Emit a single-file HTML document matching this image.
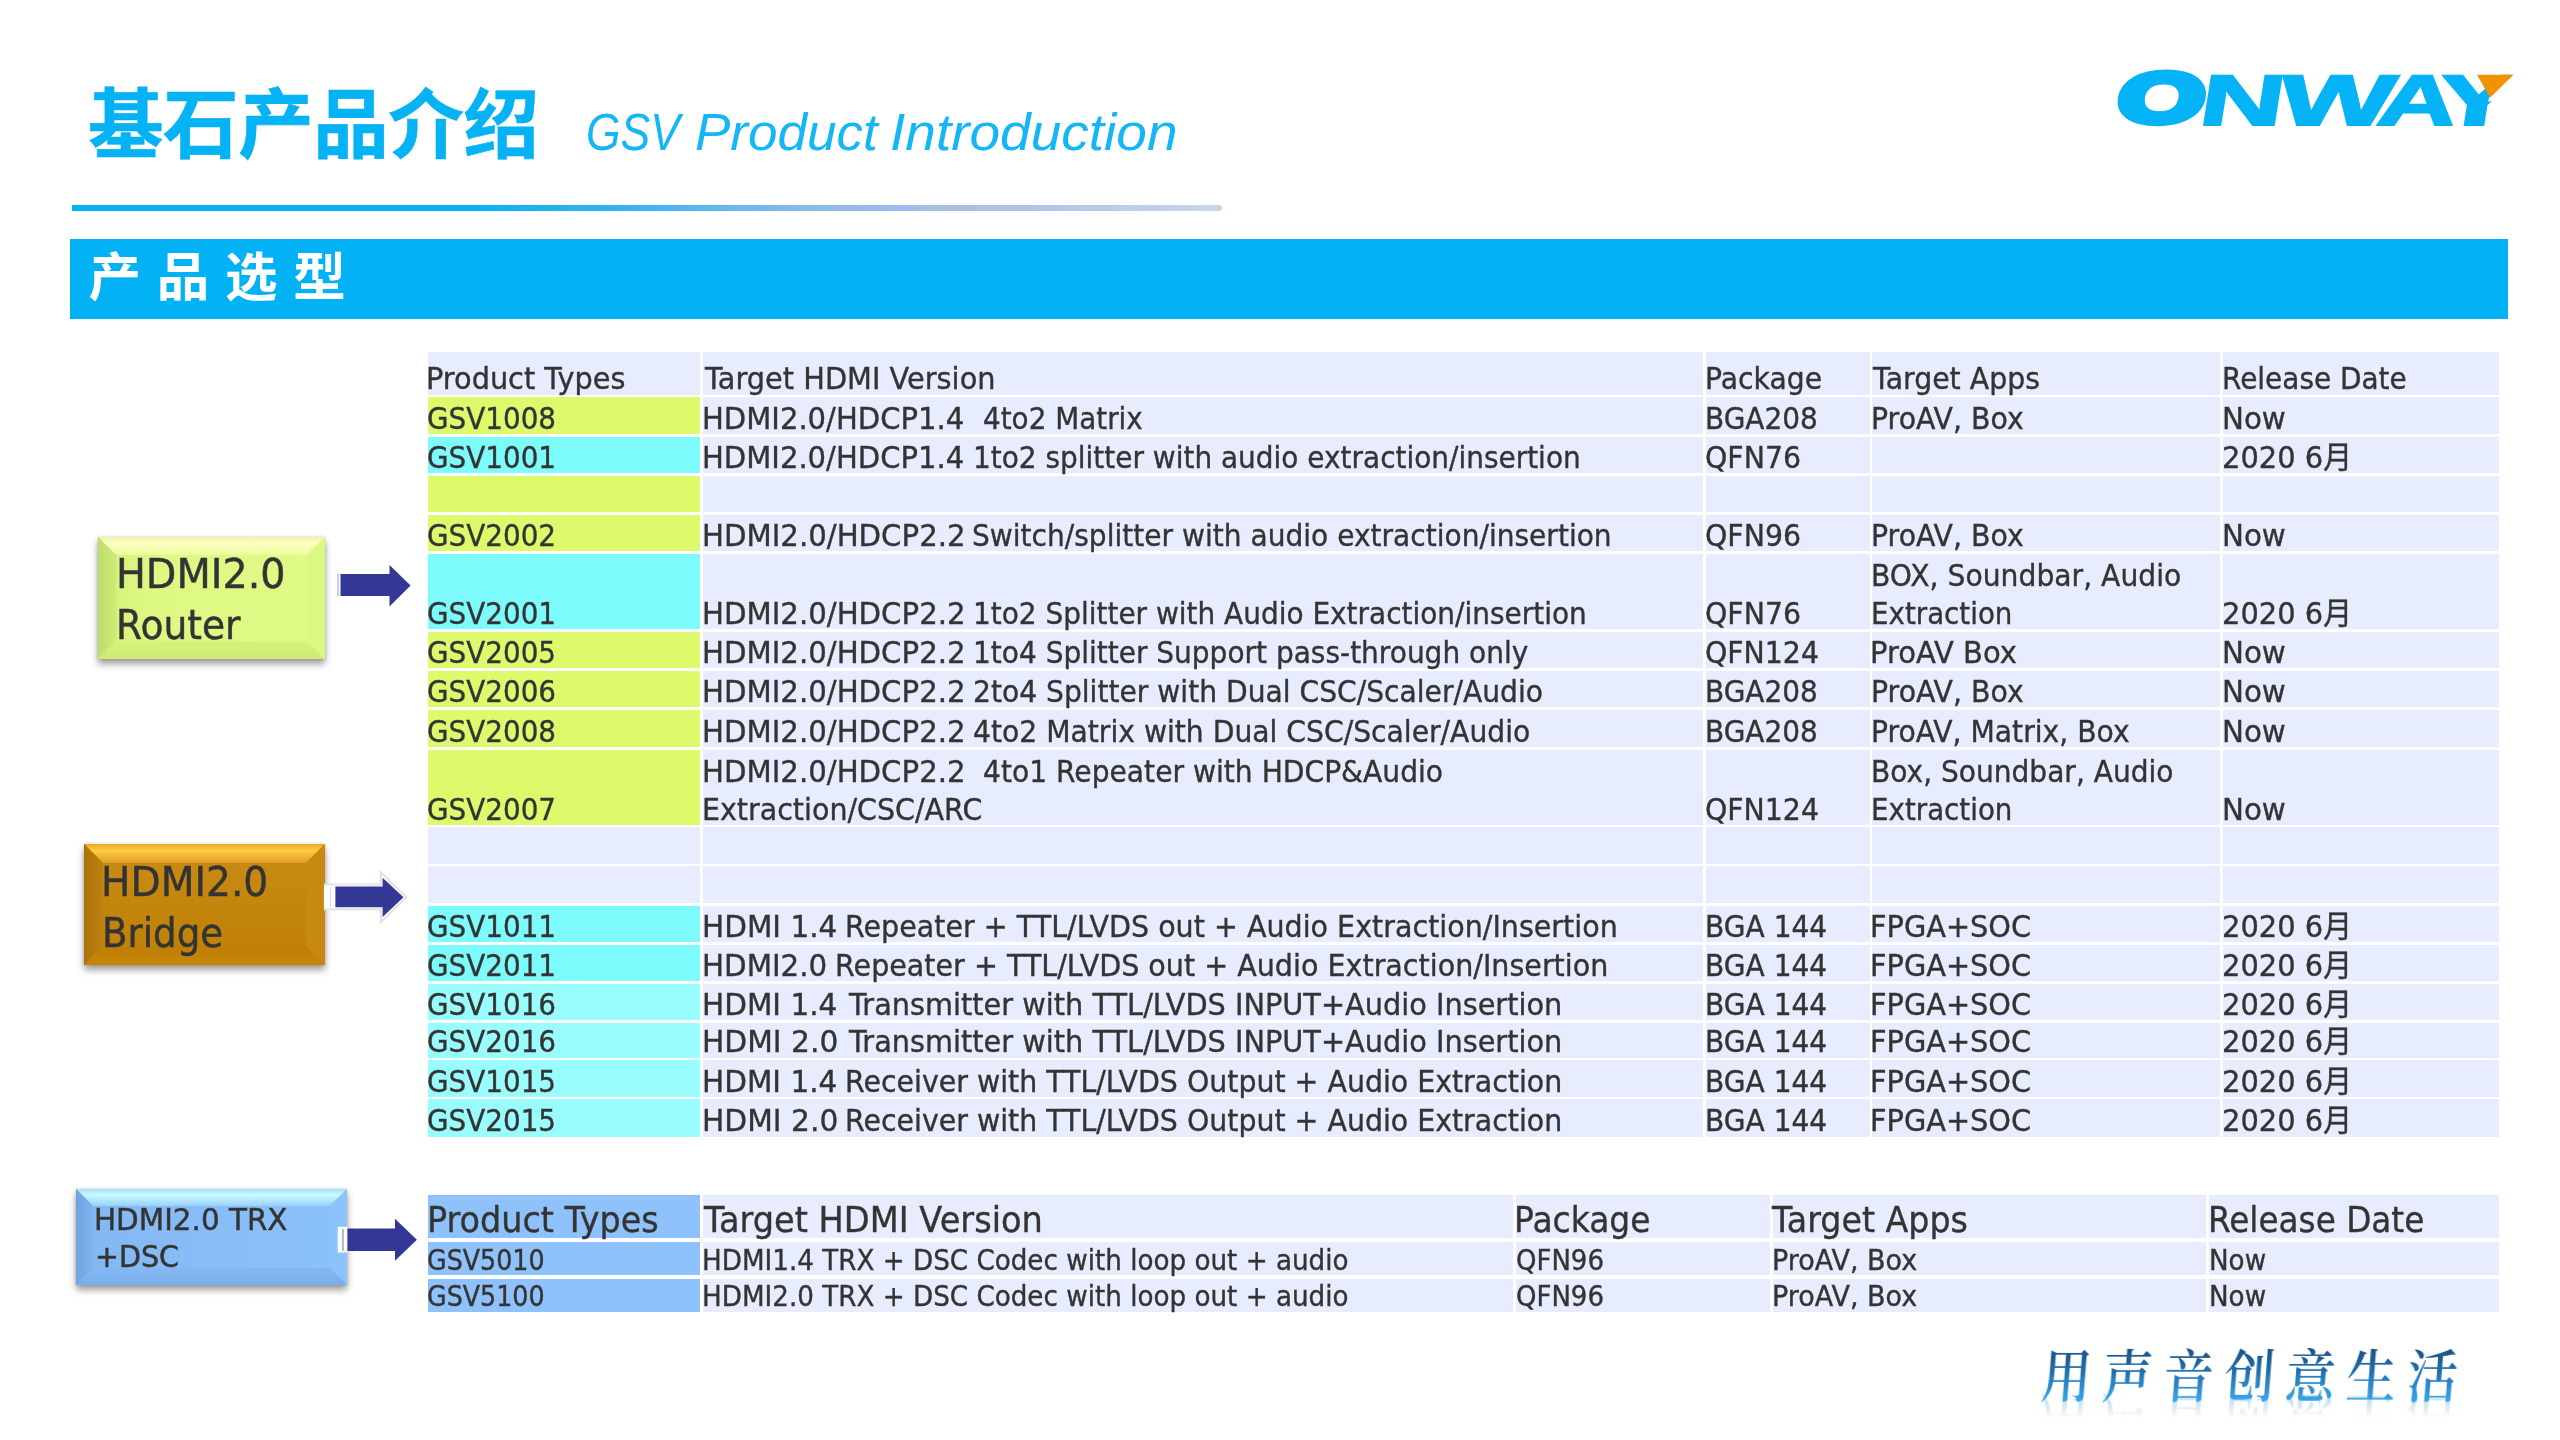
<!DOCTYPE html>
<html lang="zh"><head><meta charset="utf-8"><title>GSV Product Introduction</title>
<style>
*{margin:0;padding:0;box-sizing:border-box}
html,body{width:2560px;height:1440px;background:#fff;overflow:hidden}
body{position:relative;font-family:"DejaVu Sans","Liberation Sans","Noto Sans CJK SC",sans-serif;color:#333}
.abs{position:absolute}
.title{left:88px;top:76px;font:700 75.6px/100px "Liberation Sans","Noto Sans CJK SC",sans-serif;color:#05B2F4;white-space:nowrap;letter-spacing:-0.5px;-webkit-text-stroke:0.6px #05B2F4}
.sub{left:586px;top:97px;width:600px;height:70px;font:italic 400 52px/70px "Liberation Sans",sans-serif;color:#14B6F5;white-space:nowrap}
.sub span{position:absolute;top:0;transform-origin:0 0}
.rule{left:72px;top:205px;width:1150px;height:6px;border-radius:0 4px 4px 0;background:linear-gradient(90deg,#02B1F2 0%,#02B1F2 32%,#2FB2EF 46%,#6FB7EB 58%,#98BCE8 68%,#ABBFE6 78%,#BCC9EA 90%,#CCD5EE 100%)}
.bar{left:70px;top:239px;width:2438px;height:80px;background:#02B2F4}
.bar span{position:absolute;left:18.5px;top:5.3px;font:700 52.5px/68px "Liberation Sans","Noto Sans CJK SC",sans-serif;color:#fff;white-space:pre;letter-spacing:0.6px}
.c{position:absolute}
.c span{position:absolute;white-space:nowrap;transform-origin:0 0;font-size:30.5px;line-height:38px;-webkit-text-stroke:0.4px #383838}
.c.h2 span{font-size:35.4px;line-height:44px}
.c.s span{font-size:27.7px;line-height:35px}
.bx{position:absolute;box-shadow:0 5px 7px rgba(0,0,0,.38), 0 0 3px rgba(0,0,0,.15)}
.bx svg{position:absolute;left:0;top:0;display:block}
.bt{position:absolute;white-space:nowrap;color:#333;transform-origin:0 0;-webkit-text-stroke:0.5px #383838}
.slogan{left:2045px;top:1332.6px;font:600 50px/68px "Noto Serif CJK SC","Noto Sans CJK SC",serif;letter-spacing:11px;white-space:nowrap;background:linear-gradient(180deg,#1A4B7A 14%,#1F6FAE 50%,#3AA3E6 86%);-webkit-background-clip:text;background-clip:text;color:transparent;-webkit-box-reflect:below -22px linear-gradient(transparent 58%, rgba(255,255,255,.55));transform-origin:0 0;transform:scale(1,1.14) skewX(-5deg)}
</style></head>
<body>
<div class="abs title">基石产品介绍</div>
<div class="abs sub"><span style="left:0.18px;transform:scaleX(0.8559)">GSV</span> <span style="left:109.46px;transform:scaleX(1.0196)">Product</span> <span style="left:304.38px;transform:scaleX(1.0581)">Introduction</span></div>
<div class="abs rule"></div>
<div class="abs bar"><span>产 品 选 型</span></div>
<div class="c h" style="left:428px;top:352px;width:272px;height:43px;background:#E7EDFE"><span style="left:-1.53px;top:7.65px;transform:scaleX(0.9430)">Product Types</span></div>
<div class="c h" style="left:703px;top:352px;width:1000px;height:43px;background:#E7EDFE"><span style="left:1.50px;top:7.65px;transform:scaleX(0.9443)">Target HDMI Version</span></div>
<div class="c h" style="left:1706px;top:352px;width:164px;height:43px;background:#E7EDFE"><span style="left:-1.18px;top:7.65px;transform:scaleX(0.9254)">Package</span></div>
<div class="c h" style="left:1872px;top:352px;width:348px;height:43px;background:#E7EDFE"><span style="left:0.50px;top:7.65px;transform:scaleX(0.9298)">Target Apps</span></div>
<div class="c h" style="left:2223px;top:352px;width:276px;height:43px;background:#E7EDFE"><span style="left:-0.75px;top:7.65px;transform:scaleX(0.9157)">Release Date</span></div>
<div class="c " style="left:428px;top:397px;width:272px;height:37px;background:#DCFA6C"><span style="left:-1.22px;top:2.55px;transform:scaleX(0.9123)">GSV1008</span></div>
<div class="c " style="left:703px;top:397px;width:1000px;height:37px;background:#E7EDFE"><span style="left:-1.11px;top:2.55px;transform:scaleX(0.9530)">HDMI2.0/HDCP1.4&nbsp; </span><span style="left:280.29px;top:2.55px;transform:scaleX(0.9121)">4to2 Matrix</span></div>
<div class="c " style="left:1706px;top:397px;width:164px;height:37px;background:#E7EDFE"><span style="left:-0.95px;top:2.55px;transform:scaleX(0.9169)">BGA208</span></div>
<div class="c " style="left:1872px;top:397px;width:348px;height:37px;background:#E7EDFE"><span style="left:-1.49px;top:2.55px;transform:scaleX(0.9294)">ProAV, Box</span></div>
<div class="c " style="left:2223px;top:397px;width:276px;height:37px;background:#E7EDFE"><span style="left:-0.88px;top:2.55px;transform:scaleX(0.9613)">Now</span></div>
<div class="c " style="left:428px;top:437px;width:272px;height:36px;background:#7DFBFC"><span style="left:-1.22px;top:1.55px;transform:scaleX(0.9123)">GSV1001</span></div>
<div class="c " style="left:703px;top:437px;width:1000px;height:36px;background:#E7EDFE"><span style="left:-1.11px;top:1.55px;transform:scaleX(0.9530)">HDMI2.0/HDCP1.4 </span><span style="left:270.05px;top:1.55px;transform:scaleX(0.9163)">1to2 splitter with audio extraction/insertion</span></div>
<div class="c " style="left:1706px;top:437px;width:164px;height:36px;background:#E7EDFE"><span style="left:-0.96px;top:1.55px;transform:scaleX(0.9310)">QFN76</span></div>
<div class="c " style="left:1872px;top:437px;width:348px;height:36px;background:#E7EDFE"></div>
<div class="c " style="left:2223px;top:437px;width:276px;height:36px;background:#E7EDFE"><span style="left:-0.60px;top:1.55px;transform:scaleX(0.9477)">2020 6月</span></div>
<div class="c " style="left:428px;top:476px;width:272px;height:36px;background:#DCFA6C"></div>
<div class="c " style="left:703px;top:476px;width:1000px;height:36px;background:#E7EDFE"></div>
<div class="c " style="left:1706px;top:476px;width:164px;height:36px;background:#E7EDFE"></div>
<div class="c " style="left:1872px;top:476px;width:348px;height:36px;background:#E7EDFE"></div>
<div class="c " style="left:2223px;top:476px;width:276px;height:36px;background:#E7EDFE"></div>
<div class="c " style="left:428px;top:515px;width:272px;height:36px;background:#DCFA6C"><span style="left:-1.22px;top:1.75px;transform:scaleX(0.9123)">GSV2002</span></div>
<div class="c " style="left:703px;top:515px;width:1000px;height:36px;background:#E7EDFE"><span style="left:-1.12px;top:1.75px;transform:scaleX(0.9582)">HDMI2.0/HDCP2.2 </span><span style="left:269.36px;top:1.75px;transform:scaleX(0.9201)">Switch/splitter with audio extraction/insertion</span></div>
<div class="c " style="left:1706px;top:515px;width:164px;height:36px;background:#E7EDFE"><span style="left:-0.96px;top:1.75px;transform:scaleX(0.9310)">QFN96</span></div>
<div class="c " style="left:1872px;top:515px;width:348px;height:36px;background:#E7EDFE"><span style="left:-1.49px;top:1.75px;transform:scaleX(0.9294)">ProAV, Box</span></div>
<div class="c " style="left:2223px;top:515px;width:276px;height:36px;background:#E7EDFE"><span style="left:-0.88px;top:1.75px;transform:scaleX(0.9613)">Now</span></div>
<div class="c " style="left:428px;top:554px;width:272px;height:75px;background:#7DFBFC"><span style="left:-1.22px;top:40.55px;transform:scaleX(0.9123)">GSV2001</span></div>
<div class="c " style="left:703px;top:554px;width:1000px;height:75px;background:#E7EDFE"><span style="left:-1.12px;top:40.55px;transform:scaleX(0.9582)">HDMI2.0/HDCP2.2 </span><span style="left:270.05px;top:40.55px;transform:scaleX(0.9161)">1to2 Splitter with Audio Extraction/insertion</span></div>
<div class="c " style="left:1706px;top:554px;width:164px;height:75px;background:#E7EDFE"><span style="left:-0.96px;top:40.55px;transform:scaleX(0.9310)">QFN76</span></div>
<div class="c " style="left:1872px;top:554px;width:348px;height:75px;background:#E7EDFE"><span style="left:-1.48px;top:2.55px;transform:scaleX(0.9251)">BOX, Soundbar, Audio</span><span style="left:-1.42px;top:40.55px;transform:scaleX(0.9080)">Extraction</span></div>
<div class="c " style="left:2223px;top:554px;width:276px;height:75px;background:#E7EDFE"><span style="left:-0.60px;top:40.55px;transform:scaleX(0.9477)">2020 6月</span></div>
<div class="c " style="left:428px;top:632px;width:272px;height:36px;background:#DCFA6C"><span style="left:-1.22px;top:1.95px;transform:scaleX(0.9123)">GSV2005</span></div>
<div class="c " style="left:703px;top:632px;width:1000px;height:36px;background:#E7EDFE"><span style="left:-1.12px;top:1.95px;transform:scaleX(0.9582)">HDMI2.0/HDCP2.2 </span><span style="left:270.05px;top:1.95px;transform:scaleX(0.9180)">1to4 Splitter Support pass-through only</span></div>
<div class="c " style="left:1706px;top:632px;width:164px;height:36px;background:#E7EDFE"><span style="left:-0.96px;top:1.95px;transform:scaleX(0.9294)">QFN124</span></div>
<div class="c " style="left:1872px;top:632px;width:348px;height:36px;background:#E7EDFE"><span style="left:-1.55px;top:1.95px;transform:scaleX(0.9510)">ProAV Box</span></div>
<div class="c " style="left:2223px;top:632px;width:276px;height:36px;background:#E7EDFE"><span style="left:-0.88px;top:1.95px;transform:scaleX(0.9613)">Now</span></div>
<div class="c " style="left:428px;top:671px;width:272px;height:36px;background:#DCFA6C"><span style="left:-1.22px;top:2.15px;transform:scaleX(0.9123)">GSV2006</span></div>
<div class="c " style="left:703px;top:671px;width:1000px;height:36px;background:#E7EDFE"><span style="left:-1.12px;top:2.15px;transform:scaleX(0.9582)">HDMI2.0/HDCP2.2 </span><span style="left:269.75px;top:2.15px;transform:scaleX(0.9229)">2to4 Splitter with Dual CSC/Scaler/Audio</span></div>
<div class="c " style="left:1706px;top:671px;width:164px;height:36px;background:#E7EDFE"><span style="left:-0.95px;top:2.15px;transform:scaleX(0.9169)">BGA208</span></div>
<div class="c " style="left:1872px;top:671px;width:348px;height:36px;background:#E7EDFE"><span style="left:-1.49px;top:2.15px;transform:scaleX(0.9294)">ProAV, Box</span></div>
<div class="c " style="left:2223px;top:671px;width:276px;height:36px;background:#E7EDFE"><span style="left:-0.88px;top:2.15px;transform:scaleX(0.9613)">Now</span></div>
<div class="c " style="left:428px;top:710px;width:272px;height:37px;background:#DCFA6C"><span style="left:-1.22px;top:2.55px;transform:scaleX(0.9123)">GSV2008</span></div>
<div class="c " style="left:703px;top:710px;width:1000px;height:37px;background:#E7EDFE"><span style="left:-1.12px;top:2.55px;transform:scaleX(0.9582)">HDMI2.0/HDCP2.2 </span><span style="left:270.08px;top:2.55px;transform:scaleX(0.9246)">4to2 Matrix with Dual CSC/Scaler/Audio</span></div>
<div class="c " style="left:1706px;top:710px;width:164px;height:37px;background:#E7EDFE"><span style="left:-0.95px;top:2.55px;transform:scaleX(0.9169)">BGA208</span></div>
<div class="c " style="left:1872px;top:710px;width:348px;height:37px;background:#E7EDFE"><span style="left:-1.48px;top:2.55px;transform:scaleX(0.9250)">ProAV, Matrix, Box</span></div>
<div class="c " style="left:2223px;top:710px;width:276px;height:37px;background:#E7EDFE"><span style="left:-0.88px;top:2.55px;transform:scaleX(0.9613)">Now</span></div>
<div class="c " style="left:428px;top:750px;width:272px;height:75px;background:#DCFA6C"><span style="left:-1.22px;top:40.55px;transform:scaleX(0.9123)">GSV2007</span></div>
<div class="c " style="left:703px;top:750px;width:1000px;height:75px;background:#E7EDFE"><span style="left:-1.12px;top:2.55px;transform:scaleX(0.9582)">HDMI2.0/HDCP2.2&nbsp; </span><span style="left:280.28px;top:2.55px;transform:scaleX(0.9230)">4to1 Repeater with HDCP&amp;Audio</span><span style="left:-1.30px;top:40.55px;transform:scaleX(0.9341)">Extraction/CSC/ARC</span></div>
<div class="c " style="left:1706px;top:750px;width:164px;height:75px;background:#E7EDFE"><span style="left:-0.96px;top:40.55px;transform:scaleX(0.9294)">QFN124</span></div>
<div class="c " style="left:1872px;top:750px;width:348px;height:75px;background:#E7EDFE"><span style="left:-1.46px;top:2.55px;transform:scaleX(0.9200)">Box, Soundbar, Audio</span><span style="left:-1.42px;top:40.55px;transform:scaleX(0.9080)">Extraction</span></div>
<div class="c " style="left:2223px;top:750px;width:276px;height:75px;background:#E7EDFE"><span style="left:-0.88px;top:40.55px;transform:scaleX(0.9613)">Now</span></div>
<div class="c " style="left:428px;top:827px;width:272px;height:37px;background:#E7EDFE"></div>
<div class="c " style="left:703px;top:827px;width:1000px;height:37px;background:#E7EDFE"></div>
<div class="c " style="left:1706px;top:827px;width:164px;height:37px;background:#E7EDFE"></div>
<div class="c " style="left:1872px;top:827px;width:348px;height:37px;background:#E7EDFE"></div>
<div class="c " style="left:2223px;top:827px;width:276px;height:37px;background:#E7EDFE"></div>
<div class="c " style="left:428px;top:866px;width:272px;height:37px;background:#E7EDFE"></div>
<div class="c " style="left:703px;top:866px;width:1000px;height:37px;background:#E7EDFE"></div>
<div class="c " style="left:1706px;top:866px;width:164px;height:37px;background:#E7EDFE"></div>
<div class="c " style="left:1872px;top:866px;width:348px;height:37px;background:#E7EDFE"></div>
<div class="c " style="left:2223px;top:866px;width:276px;height:37px;background:#E7EDFE"></div>
<div class="c " style="left:428px;top:906px;width:272px;height:36px;background:#7DFBFC"><span style="left:-1.22px;top:1.65px;transform:scaleX(0.9123)">GSV1011</span></div>
<div class="c " style="left:703px;top:906px;width:1000px;height:36px;background:#E7EDFE"><span style="left:-1.15px;top:1.65px;transform:scaleX(0.9669)">HDMI 1.4 </span><span style="left:142.19px;top:1.65px;transform:scaleX(0.9357)">Repeater + TTL/LVDS out + Audio Extraction/Insertion</span></div>
<div class="c " style="left:1706px;top:906px;width:164px;height:36px;background:#E7EDFE"><span style="left:-0.96px;top:1.65px;transform:scaleX(0.9202)">BGA 144</span></div>
<div class="c " style="left:1872px;top:906px;width:348px;height:36px;background:#E7EDFE"><span style="left:-1.53px;top:1.65px;transform:scaleX(0.9440)">FPGA+SOC</span></div>
<div class="c " style="left:2223px;top:906px;width:276px;height:36px;background:#E7EDFE"><span style="left:-0.60px;top:1.65px;transform:scaleX(0.9477)">2020 6月</span></div>
<div class="c " style="left:428px;top:945px;width:272px;height:36px;background:#7DFBFC"><span style="left:-1.22px;top:1.85px;transform:scaleX(0.9123)">GSV2011</span></div>
<div class="c " style="left:703px;top:945px;width:1000px;height:36px;background:#E7EDFE"><span style="left:-1.14px;top:1.85px;transform:scaleX(0.9620)">HDMI2.0 </span><span style="left:132.44px;top:1.85px;transform:scaleX(0.9364)">Repeater + TTL/LVDS out + Audio Extraction/Insertion</span></div>
<div class="c " style="left:1706px;top:945px;width:164px;height:36px;background:#E7EDFE"><span style="left:-0.96px;top:1.85px;transform:scaleX(0.9202)">BGA 144</span></div>
<div class="c " style="left:1872px;top:945px;width:348px;height:36px;background:#E7EDFE"><span style="left:-1.53px;top:1.85px;transform:scaleX(0.9440)">FPGA+SOC</span></div>
<div class="c " style="left:2223px;top:945px;width:276px;height:36px;background:#E7EDFE"><span style="left:-0.60px;top:1.85px;transform:scaleX(0.9477)">2020 6月</span></div>
<div class="c " style="left:428px;top:984px;width:272px;height:36px;background:#99FCFD"><span style="left:-1.22px;top:2.05px;transform:scaleX(0.9123)">GSV1016</span></div>
<div class="c " style="left:703px;top:984px;width:1000px;height:36px;background:#E7EDFE"><span style="left:-1.15px;top:2.05px;transform:scaleX(0.9669)">HDMI 1.4 </span><span style="left:145.75px;top:2.05px;transform:scaleX(0.9433)">Transmitter with TTL/LVDS INPUT+Audio Insertion</span></div>
<div class="c " style="left:1706px;top:984px;width:164px;height:36px;background:#E7EDFE"><span style="left:-0.96px;top:2.05px;transform:scaleX(0.9202)">BGA 144</span></div>
<div class="c " style="left:1872px;top:984px;width:348px;height:36px;background:#E7EDFE"><span style="left:-1.53px;top:2.05px;transform:scaleX(0.9440)">FPGA+SOC</span></div>
<div class="c " style="left:2223px;top:984px;width:276px;height:36px;background:#E7EDFE"><span style="left:-0.60px;top:2.05px;transform:scaleX(0.9477)">2020 6月</span></div>
<div class="c " style="left:428px;top:1023px;width:272px;height:35px;background:#99FCFD"><span style="left:-1.22px;top:0.35px;transform:scaleX(0.9123)">GSV2016</span></div>
<div class="c " style="left:703px;top:1023px;width:1000px;height:35px;background:#E7EDFE"><span style="left:-1.17px;top:0.35px;transform:scaleX(0.9741)">HDMI 2.0 </span><span style="left:145.75px;top:0.35px;transform:scaleX(0.9433)">Transmitter with TTL/LVDS INPUT+Audio Insertion</span></div>
<div class="c " style="left:1706px;top:1023px;width:164px;height:35px;background:#E7EDFE"><span style="left:-0.96px;top:0.35px;transform:scaleX(0.9202)">BGA 144</span></div>
<div class="c " style="left:1872px;top:1023px;width:348px;height:35px;background:#E7EDFE"><span style="left:-1.53px;top:0.35px;transform:scaleX(0.9440)">FPGA+SOC</span></div>
<div class="c " style="left:2223px;top:1023px;width:276px;height:35px;background:#E7EDFE"><span style="left:-0.60px;top:0.35px;transform:scaleX(0.9477)">2020 6月</span></div>
<div class="c " style="left:428px;top:1060px;width:272px;height:37px;background:#99FCFD"><span style="left:-1.22px;top:2.75px;transform:scaleX(0.9123)">GSV1015</span></div>
<div class="c " style="left:703px;top:1060px;width:1000px;height:37px;background:#E7EDFE"><span style="left:-1.15px;top:2.75px;transform:scaleX(0.9669)">HDMI 1.4 </span><span style="left:142.21px;top:2.75px;transform:scaleX(0.9314)">Receiver with TTL/LVDS Output + Audio Extraction</span></div>
<div class="c " style="left:1706px;top:1060px;width:164px;height:37px;background:#E7EDFE"><span style="left:-0.96px;top:2.75px;transform:scaleX(0.9202)">BGA 144</span></div>
<div class="c " style="left:1872px;top:1060px;width:348px;height:37px;background:#E7EDFE"><span style="left:-1.53px;top:2.75px;transform:scaleX(0.9440)">FPGA+SOC</span></div>
<div class="c " style="left:2223px;top:1060px;width:276px;height:37px;background:#E7EDFE"><span style="left:-0.60px;top:2.75px;transform:scaleX(0.9477)">2020 6月</span></div>
<div class="c " style="left:428px;top:1099px;width:272px;height:38px;background:#99FCFD"><span style="left:-1.22px;top:3.45px;transform:scaleX(0.9123)">GSV2015</span></div>
<div class="c " style="left:703px;top:1099px;width:1000px;height:38px;background:#E7EDFE"><span style="left:-1.17px;top:3.45px;transform:scaleX(0.9741)">HDMI 2.0 </span><span style="left:142.21px;top:3.45px;transform:scaleX(0.9314)">Receiver with TTL/LVDS Output + Audio Extraction</span></div>
<div class="c " style="left:1706px;top:1099px;width:164px;height:38px;background:#E7EDFE"><span style="left:-0.96px;top:3.45px;transform:scaleX(0.9202)">BGA 144</span></div>
<div class="c " style="left:1872px;top:1099px;width:348px;height:38px;background:#E7EDFE"><span style="left:-1.53px;top:3.45px;transform:scaleX(0.9440)">FPGA+SOC</span></div>
<div class="c " style="left:2223px;top:1099px;width:276px;height:38px;background:#E7EDFE"><span style="left:-0.60px;top:3.45px;transform:scaleX(0.9477)">2020 6月</span></div>
<div class="c h2" style="left:428px;top:1195px;width:272px;height:43px;background:#8FC1FB"><span style="left:-1.43px;top:3.05px;transform:scaleX(0.9440)">Product Types</span></div>
<div class="c h2" style="left:703px;top:1195px;width:810px;height:43px;background:#E7EDFE"><span style="left:1.00px;top:3.05px;transform:scaleX(0.9492)">Target HDMI Version</span></div>
<div class="c h2" style="left:1516px;top:1195px;width:254px;height:43px;background:#E7EDFE"><span style="left:-1.54px;top:3.05px;transform:scaleX(0.9306)">Package</span></div>
<div class="c h2" style="left:1773px;top:1195px;width:433px;height:43px;background:#E7EDFE"><span style="left:-0.90px;top:3.05px;transform:scaleX(0.9401)">Target Apps</span></div>
<div class="c h2" style="left:2209px;top:1195px;width:290px;height:43px;background:#E7EDFE"><span style="left:-0.77px;top:3.05px;transform:scaleX(0.9239)">Release Date</span></div>
<div class="c s" style="left:428px;top:1242px;width:272px;height:33px;background:#8FC1FB"><span style="left:-0.62px;top:0.72px;transform:scaleX(0.9159)">GSV5010</span></div>
<div class="c s" style="left:703px;top:1242px;width:810px;height:33px;background:#E7EDFE"><span style="left:-0.89px;top:0.72px;transform:scaleX(0.9463)">HDMI1.4 TRX + DSC Codec with loop out + audio</span></div>
<div class="c s" style="left:1516px;top:1242px;width:254px;height:33px;background:#E7EDFE"><span style="left:-0.14px;top:0.72px;transform:scaleX(0.9390)">QFN96</span></div>
<div class="c s" style="left:1773px;top:1242px;width:433px;height:33px;background:#E7EDFE"><span style="left:-1.05px;top:0.72px;transform:scaleX(0.9740)">ProAV, Box</span></div>
<div class="c s" style="left:2209px;top:1242px;width:290px;height:33px;background:#E7EDFE"><span style="left:0.11px;top:0.72px;transform:scaleX(0.9466)">Now</span></div>
<div class="c s" style="left:428px;top:1279px;width:272px;height:33px;background:#8FC1FB"><span style="left:-0.62px;top:0.42px;transform:scaleX(0.9159)">GSV5100</span></div>
<div class="c s" style="left:703px;top:1279px;width:810px;height:33px;background:#E7EDFE"><span style="left:-0.89px;top:0.42px;transform:scaleX(0.9463)">HDMI2.0 TRX + DSC Codec with loop out + audio</span></div>
<div class="c s" style="left:1516px;top:1279px;width:254px;height:33px;background:#E7EDFE"><span style="left:-0.14px;top:0.42px;transform:scaleX(0.9390)">QFN96</span></div>
<div class="c s" style="left:1773px;top:1279px;width:433px;height:33px;background:#E7EDFE"><span style="left:-1.05px;top:0.42px;transform:scaleX(0.9740)">ProAV, Box</span></div>
<div class="c s" style="left:2209px;top:1279px;width:290px;height:33px;background:#E7EDFE"><span style="left:0.11px;top:0.42px;transform:scaleX(0.9466)">Now</span></div>
<!-- bevelled label boxes -->
<div class="bx" style="left:98px;top:537px;width:227px;height:122px">
<svg width="227" height="122" viewBox="0 0 226 122" preserveAspectRatio="none">
<defs>
<linearGradient id="g1f" x1="0" y1="0" x2="1" y2="0"><stop offset="0" stop-color="#D4F07A"/><stop offset="0.25" stop-color="#DDF984"/><stop offset="1" stop-color="#DFFB86"/></linearGradient>
<linearGradient id="g1t" x1="0" y1="0" x2="0" y2="1"><stop offset="0" stop-color="#EEF5A8"/><stop offset="0.35" stop-color="#FDFEC2"/><stop offset="1" stop-color="#EEFC9C"/></linearGradient>
<linearGradient id="g1l" x1="0" y1="0" x2="1" y2="0"><stop offset="0" stop-color="#BFDD6E"/><stop offset="1" stop-color="#CDEB78"/></linearGradient>
<linearGradient id="g1b" x1="0" y1="0" x2="0" y2="1"><stop offset="0" stop-color="#D8F47C"/><stop offset="1" stop-color="#CDE875"/></linearGradient>
</defs>
<rect width="226" height="122" fill="url(#g1f)"/>
<polygon points="0,0 226,0 208,18 18,18" fill="url(#g1t)"/>
<polygon points="0,0 18,18 18,104 0,122" fill="url(#g1l)"/>
<polygon points="226,0 226,122 208,104 208,18" fill="#DCF782"/>
<polygon points="0,122 18,104 208,104 226,122" fill="url(#g1b)"/>
</svg>
<div class="bt" id="b1a" style="left:17.63px;top:17.06px;font-size:41.0px;line-height:1;transform:scaleX(0.9685)">HDMI2.0</div><div class="bt" id="b1b" style="left:18.34px;top:68.11px;font-size:41.0px;line-height:1;transform:scaleX(0.9159)">Router</div>
</div>

<div class="bx" style="left:84px;top:844px;width:241px;height:121px">
<svg width="241" height="121" viewBox="0 0 240 121" preserveAspectRatio="none">
<defs>
<linearGradient id="g2f" x1="0" y1="0" x2="0" y2="1"><stop offset="0" stop-color="#C98C14"/><stop offset="1" stop-color="#BF7F06"/></linearGradient>
<linearGradient id="g2t" x1="0" y1="0" x2="0" y2="1"><stop offset="0" stop-color="#E9A91E"/><stop offset="0.35" stop-color="#FFCB45"/><stop offset="1" stop-color="#DFA024"/></linearGradient>
<linearGradient id="g2l" x1="0" y1="0" x2="1" y2="0"><stop offset="0" stop-color="#A9730A"/><stop offset="1" stop-color="#BC8210"/></linearGradient>
<linearGradient id="g2b" x1="0" y1="0" x2="0" y2="1"><stop offset="0" stop-color="#BD7E05"/><stop offset="1" stop-color="#C68708"/></linearGradient>
</defs>
<rect width="240" height="121" fill="url(#g2f)"/>
<polygon points="0,0 240,0 221,19 19,19" fill="url(#g2t)"/>
<polygon points="0,0 19,19 19,102 0,121" fill="url(#g2l)"/>
<polygon points="240,0 240,121 221,102 221,19" fill="#C88A0E"/>
<polygon points="0,121 19,102 221,102 240,121" fill="url(#g2b)"/>
</svg>
<div class="bt" id="b2a" style="left:17.22px;top:16.69px;font-size:41.5px;line-height:1;transform:scaleX(0.9441)">HDMI2.0</div><div class="bt" id="b2b" style="left:17.92px;top:67.89px;font-size:41.5px;line-height:1;transform:scaleX(0.8953)">Bridge</div>
</div>

<div class="bx" style="left:76px;top:1189px;width:271px;height:96px">
<svg width="271" height="96" viewBox="0 0 271 96">
<defs>
<linearGradient id="g3f" x1="0" y1="0" x2="1" y2="0"><stop offset="0" stop-color="#83B7F3"/><stop offset="1" stop-color="#8CC2FC"/></linearGradient>
<linearGradient id="g3t" x1="0" y1="0" x2="0" y2="1"><stop offset="0" stop-color="#A9DDF9"/><stop offset="0.35" stop-color="#C8FBFF"/><stop offset="1" stop-color="#9AD0FB"/></linearGradient>
<linearGradient id="g3l" x1="0" y1="0" x2="1" y2="0"><stop offset="0" stop-color="#6FA2DE"/><stop offset="1" stop-color="#7FB3EF"/></linearGradient>
<linearGradient id="g3b" x1="0" y1="0" x2="0" y2="1"><stop offset="0" stop-color="#84B8F4"/><stop offset="1" stop-color="#7AAEEA"/></linearGradient>
</defs>
<rect width="271" height="96" fill="url(#g3f)"/>
<polygon points="0,0 271,0 254,17 17,17" fill="url(#g3t)"/>
<polygon points="0,0 17,17 17,79 0,96" fill="url(#g3l)"/>
<polygon points="271,0 271,96 254,79 254,17" fill="#8BC3FD"/>
<polygon points="0,96 17,79 254,79 271,96" fill="url(#g3b)"/>
</svg>
<div class="bt" id="b3a" style="left:17.72px;top:15.61px;font-size:30.6px;line-height:1;transform:scaleX(0.9614)">HDMI2.0 TRX</div><div class="bt" id="b3b" style="left:18.5px;top:53.31px;font-size:30.6px;line-height:1;transform:scaleX(0.9329)">+DSC</div>
</div>

<!-- arrows -->
<svg class="abs" style="left:330px;top:555px" width="90" height="62" viewBox="330 555 90 62">
<rect x="337" y="574" width="2" height="22" fill="#C9CBE6"/>
<polygon points="340.5,574 389.5,574 389.5,565 410.6,585.5 389.5,606.5 389.5,596 340.5,596" fill="#333894"/>
</svg>
<svg class="abs" style="left:320px;top:860px" width="100" height="76" viewBox="320 860 100 76">
<polygon points="325,884.5 380.8,884.5 380.8,872.3 406.3,897.2 380.8,922.2 380.8,909.3 325,909.3" fill="#fff" stroke="#E3E3E5" stroke-width="2.2" stroke-linejoin="miter"/>
<rect x="324" y="885.8" width="4" height="22.2" fill="#fff"/>
<rect x="329.8" y="886.5" width="1.5" height="20.8" fill="#DDDEF0"/>
<polygon points="335.4,886.5 382.6,886.5 382.6,877.8 403.5,897.2 382.6,917 382.6,907.3 335.4,907.3" fill="#333894"/>
</svg>
<svg class="abs" style="left:330px;top:1210px" width="95" height="60" viewBox="330 1210 95 60">
<rect x="337.7" y="1226.8" width="10" height="25.7" fill="#FDFDFF"/>
<rect x="342.2" y="1229" width="1.5" height="22" fill="#9FA0CF"/>
<polygon points="347.4,1228.5 395,1228.5 395,1218.8 416.9,1239.65 395,1260.8 395,1251.1 347.4,1251.1" fill="#333894"/>
</svg>

<!-- logo -->
<svg class="abs" style="left:2100px;top:55px" width="440" height="90" viewBox="2100 55 440 90">
<text transform="translate(2113,125) skewX(-9)" font-family="Liberation Sans, sans-serif" font-weight="700" font-size="71.5" fill="#05B3F6" stroke="#05B3F6" stroke-width="2"><tspan font-size="70" x="1.5" dy="-3.5" stroke-width="7" stroke-linejoin="round" textLength="86" lengthAdjust="spacingAndGlyphs">O</tspan><tspan x="84" dy="3.5" textLength="84" lengthAdjust="spacingAndGlyphs">N</tspan><tspan x="163" textLength="115" lengthAdjust="spacingAndGlyphs">W</tspan><tspan x="262" textLength="79" lengthAdjust="spacingAndGlyphs">A</tspan><tspan x="321" textLength="80" lengthAdjust="spacingAndGlyphs">Y</tspan></text>
<polygon points="2488.2,101.4 2489,97.8 2512,74 2545,74 2545,101.4" fill="#fff"/>
<polygon points="2477,74.8 2513.6,74.8 2490,97.8" fill="#F39200"/>
</svg>

<!-- slogan -->
<div class="abs slogan">用声音创意生活</div>

</body></html>
